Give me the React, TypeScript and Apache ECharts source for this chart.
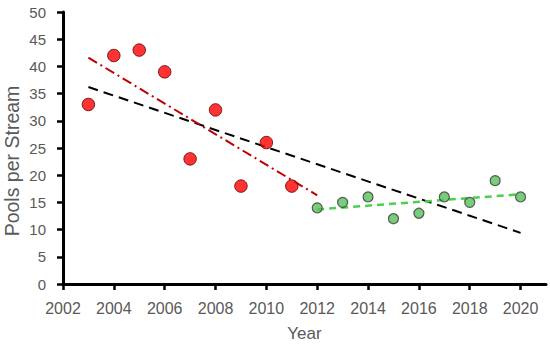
import React, { useEffect, useRef } from "react";
import * as echarts from "echarts";

const redYears = [2003, 2004, 2005, 2006, 2007, 2008, 2009, 2010, 2011];
const redValues = [33, 42, 43, 39, 23, 32, 18, 26, 18];
const greenYears = [2012, 2013, 2014, 2015, 2016, 2017, 2018, 2019, 2020];
const greenValues = [14, 15, 16, 12, 13, 16, 15, 19, 16];

// trendline endpoints: [year, value]
const redTrend = [[2003, 41.6], [2012, 16.3]];
const allTrend = [[2003, 36.2], [2020, 9.4]];
const greenTrend = [[2012, 13.7], [2020, 16.5]];

const xTickValues = [2002, 2004, 2006, 2008, 2010, 2012, 2014, 2016, 2018, 2020];
const yAxisTitle = "Pools per Stream";
const xAxisTitle = "Year";

const FONT = "Liberation Sans, Arial, sans-serif";
const GREY = "#595959";

export default function App() {
  const ref = useRef<HTMLDivElement>(null);
  useEffect(() => {
    const chart = echarts.init(ref.current!, null, { renderer: "svg" });
    chart.setOption({
      animation: false,
      grid: { left: 63, right: 4, top: 12, bottom: 61, containLabel: false },
      graphic: [
        {
          type: "text",
          x: 12,
          y: 161,
          rotation: Math.PI / 2,
          style: {
            text: yAxisTitle,
            fill: GREY,
            font: `19.5px ${FONT}`,
            align: "center",
            verticalAlign: "middle",
          },
        },
      ],
      xAxis: {
        type: "value",
        min: 2002,
        max: 2021,
        interval: 1,
        name: xAxisTitle,
        nameLocation: "middle",
        nameGap: 41,
        nameTextStyle: { color: GREY, fontFamily: FONT, fontSize: 17 },
        axisLine: { lineStyle: { color: "#000", width: 3 } },
        axisTick: { show: true, length: 6, lineStyle: { color: "#000", width: 2.5 }, customValues: xTickValues },
        axisLabel: { color: GREY, fontFamily: FONT, fontSize: 16, margin: 16, customValues: xTickValues, formatter: (v: number) => String(v) },
        splitLine: { show: false },
      },
      yAxis: {
        type: "value",
        min: 0,
        max: 50,
        interval: 5,
        axisLine: { show: true, lineStyle: { color: "#000", width: 3 } },
        axisTick: { show: true, length: 6, lineStyle: { color: "#000", width: 2.5 } },
        axisLabel: { color: GREY, fontFamily: FONT, fontSize: 15, margin: 17 },
        splitLine: { show: false },
      },
      series: [
        {
          type: "line",
          data: allTrend,
          symbol: "none",
          lineStyle: { color: "#000", width: 2, type: [10, 6] },
          z: 1,
        },
        {
          type: "line",
          data: redTrend,
          symbol: "none",
          lineStyle: { color: "#C00000", width: 2, type: [10, 4, 2, 4] },
          z: 1,
        },
        {
          type: "line",
          data: greenTrend,
          symbol: "none",
          lineStyle: { color: "#4CD04C", width: 2.5, type: [7, 5] },
          z: 1,
        },
        {
          type: "scatter",
          data: redYears.map((y, i) => [y, redValues[i]]),
          symbolSize: 12.5,
          itemStyle: { color: "#FF0000", borderColor: "#5a0000", borderWidth: 1 },
          z: 3,
        },
        {
          type: "scatter",
          data: greenYears.map((y, i) => [y, greenValues[i]]),
          symbolSize: 10,
          itemStyle: { color: "#56C15A", borderColor: "#3a3a3a", borderWidth: 1.2 },
          z: 3,
        },
      ],
    });
    return () => chart.dispose();
  }, []);
  return <div ref={ref} style={{ width: 550, height: 347, position: "absolute", left: 0, top: 0 }} />;
}
